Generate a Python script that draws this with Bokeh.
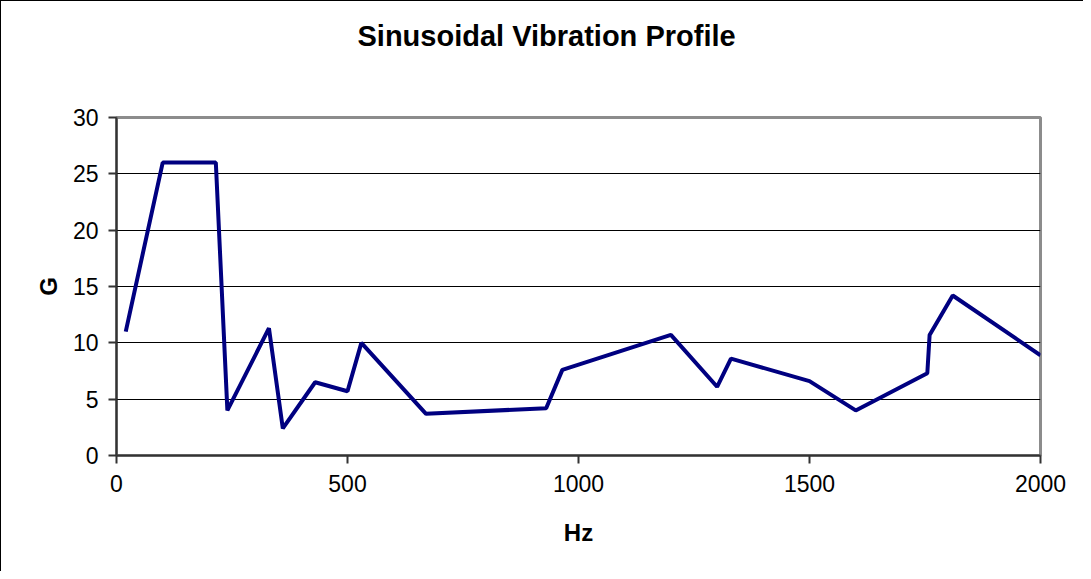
from bokeh.plotting import figure
from bokeh.models import Range1d, SingleIntervalTicker, Title
from bokeh.embed import file_html
from bokeh.resources import INLINE

# Data
hz = [20, 100, 215, 240, 330, 360, 430, 500, 530, 670, 930, 965, 1200,
      1300, 1330, 1500, 1600, 1755, 1760, 1810, 2000]
g = [11.0, 26.0, 26.0, 4.0, 11.3, 2.4, 6.5, 5.7, 10.0, 3.7, 4.2, 7.6, 10.7,
     6.1, 8.6, 6.6, 4.0, 7.3, 10.7, 14.2, 8.9]

title_text = "Sinusoidal Vibration Profile"
x_label = "Hz"
y_label = "G"

FONT = "Liberation Sans"

p = figure(width=1083, height=571, output_backend="svg", toolbar_location=None,
           x_range=Range1d(0, 2000), y_range=Range1d(0, 30),
           min_border_left=115, min_border_right=44,
           min_border_top=116, min_border_bottom=117)

# real title (outermost panel above the frame)
p.title = Title(text=title_text, align="left", offset=241, standoff=10,
                text_font=FONT, text_font_size="29px", text_font_style="bold",
                text_color="#000000")
# empty spacer panel between title and plot frame
spacer = Title(text=" ", text_font_size="1px", standoff=58, text_color="#ffffff")
p.above.insert(0, spacer)

p.line(hz, g, line_color="#000080", line_width=4)

for ax in (p.xaxis[0], p.yaxis[0]):
    ax.axis_line_color = "#333333"
    ax.axis_line_width = 2
    ax.major_tick_line_color = "#333333"
    ax.major_tick_line_width = 2
    ax.major_tick_out = 8
    ax.major_tick_in = 0
    ax.minor_tick_line_color = None
    ax.major_label_text_font = FONT
    ax.major_label_text_font_size = "23px"
    ax.major_label_text_color = "#000000"
    ax.axis_label_text_font = FONT
    ax.axis_label_text_font_size = "24px"
    ax.axis_label_text_font_style = "bold"
    ax.axis_label_text_color = "#000000"

p.xaxis.ticker = SingleIntervalTicker(interval=500)
p.yaxis.ticker = SingleIntervalTicker(interval=5)
p.xaxis.axis_label = x_label
p.yaxis.axis_label = y_label
p.xaxis.major_label_standoff = 11
p.xaxis.axis_label_standoff = 24
p.yaxis.major_label_standoff = 10
p.yaxis.axis_label_standoff = 8

p.xgrid.grid_line_color = None
p.ygrid.grid_line_color = "#000000"
p.ygrid.grid_line_width = 1.2

p.outline_line_color = "#8c8c8c"
p.outline_line_width = 3
p.background_fill_color = "#ffffff"
p.border_fill_color = "#ffffff"
p.styles = {"border-left": "1px solid #000000", "border-top": "1px solid #000000"}

open("out.html", "w").write(file_html(p, INLINE))
